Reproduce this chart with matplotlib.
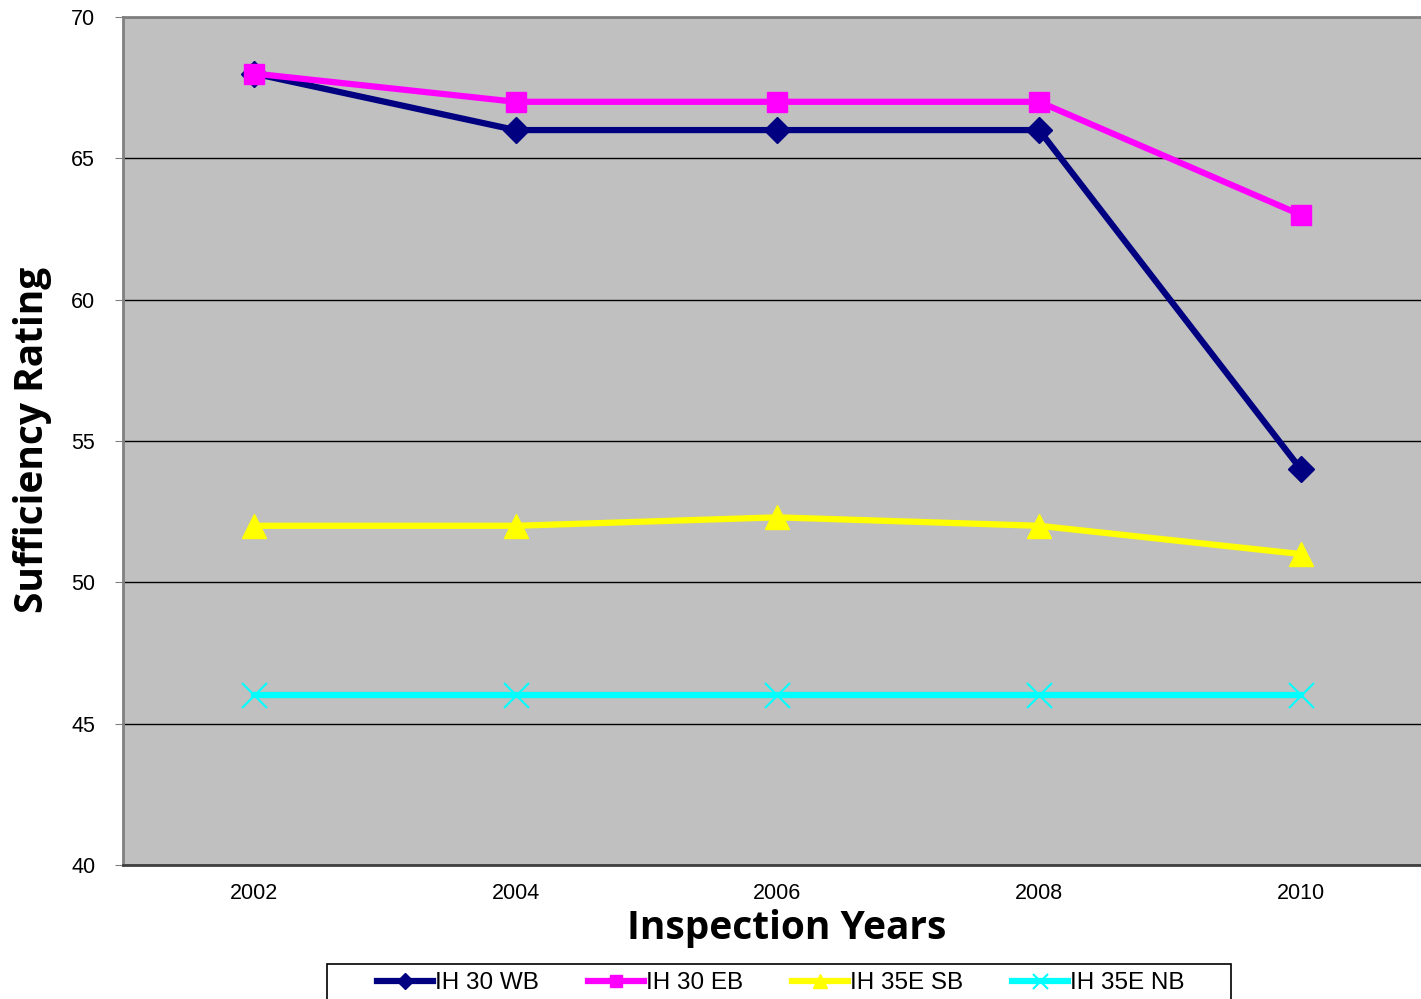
import numpy as np
import matplotlib
matplotlib.use("Agg")
from matplotlib import pyplot as plt
from matplotlib.patches import Rectangle

years = ["2002", "2004", "2006", "2008", "2010"]
ih30_wb = [68, 66, 66, 66, 54]
ih30_eb = [68, 67, 67, 67, 63]
ih35e_sb = [52, 52, 52.3, 52, 51]
ih35e_nb = [46, 46, 46, 46, 46]
labels = ["IH 30 WB", "IH 30 EB", "IH 35E SB", "IH 35E NB"]

plt.rcParams["font.family"] = ["Liberation Sans", "DejaVu Sans"]

fig = plt.figure(figsize=(14.21, 9.99), dpi=100)
ax = fig.add_axes([123 / 1421, 1 - 865 / 999, 1 - 123 / 1421, (865 - 17) / 999])
ax.set_facecolor("#c0c0c0")

x = np.arange(len(years))
ax.plot(x, ih30_wb, color="#000080", lw=4.5, marker="D", ms=13, label=labels[0], zorder=3)
ax.plot(x, ih30_eb, color="#ff00ff", lw=4.5, marker="s", ms=14, label=labels[1], zorder=4)
ax.plot(x, ih35e_sb, color="#ffff00", lw=4.5, marker="^", ms=17, label=labels[2], zorder=3)
ax.plot(x, ih35e_nb, color="#00ffff", lw=4.5, marker="x", ms=18, mew=1.5, label=labels[3], zorder=3)

ax.set_ylim(40, 70)
ax.set_yticks(range(40, 71, 5))
ax.set_xlim(-0.5, 4.459)
ax.set_xticks(x)
ax.set_xticklabels(years)
ax.yaxis.grid(True, color="black", lw=1)
ax.set_axisbelow(True)
ax.tick_params(axis="y", length=6, color="#808080", labelsize=15.5, pad=14)
ax.tick_params(axis="x", length=0, labelsize=15.5, pad=13)

for s in ["top", "left"]:
    ax.spines[s].set_color("#808080")
    ax.spines[s].set_linewidth(2)
ax.spines["bottom"].set_color("#404040")
ax.spines["bottom"].set_linewidth(2)
ax.spines["right"].set_visible(False)

fig.text(787 / 1421, 1 - 929 / 999, "Inspection Years", ha="center", va="center",
         fontsize=28, fontweight="bold", family=["Open Sans", "DejaVu Sans"])
fig.text(33 / 1421, 1 - 440 / 999, "Sufficiency Rating", ha="center", va="center",
         rotation=90, fontsize=28, fontweight="bold", family=["Open Sans", "DejaVu Sans"])

# legend frame (cut off at the bottom edge like the original)
fig.patches.append(Rectangle((327 / 1421, -0.02), (1231 - 327) / 1421, 0.02 + 1 - 964 / 999,
                             transform=fig.transFigure, facecolor="white",
                             edgecolor="black", lw=1.2, zorder=1))
leg = fig.legend(loc="center", bbox_to_anchor=(781 / 1421, 1 - 983 / 999), ncol=4,
                 fontsize=17.5, frameon=False, borderaxespad=0, borderpad=0,
                 handlelength=2.3, handletextpad=0.1, columnspacing=2.0,
                 markerscale=0.6)
leg.set_zorder(2)

fig.savefig("out.png", dpi=100)
